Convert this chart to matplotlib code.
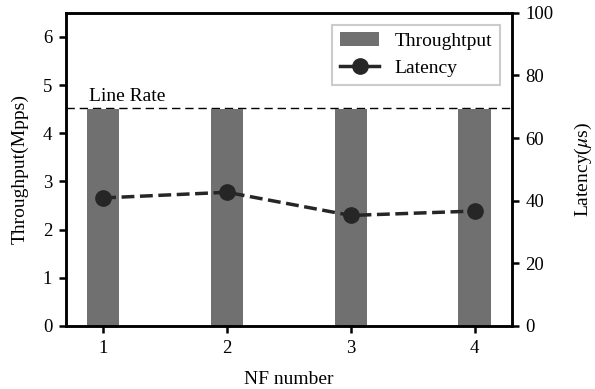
import matplotlib
matplotlib.use('Agg')
import matplotlib.pyplot as plt
from matplotlib.lines import Line2D

plt.rcParams['font.family'] = ['Liberation Serif', 'DejaVu Serif']
plt.rcParams['mathtext.fontset'] = 'stix'
plt.rcParams['font.size'] = 14

# data
nf_number = [1, 2, 3, 4]
throughput = [4.5, 4.5, 4.5, 4.5]
latency = [40.9, 42.7, 35.3, 36.7]
line_rate = 4.52

fig = plt.figure(figsize=(5.95, 3.89), dpi=100)
ax = fig.add_axes([0.111, 0.162, 0.749, 0.805])
ax2 = ax.twinx()

# bars on the left axis
bars = ax.bar(nf_number, throughput, width=0.26, color='#707070', label='Throughtput', zorder=2)
ax.axhline(line_rate, color='black', linestyle=(0, (6, 3.5)), linewidth=1.0, zorder=1)
ax.text(0.885, line_rate + 0.06, 'Line Rate', ha='left', va='bottom', fontsize=14)

# latency on the right axis
line, = ax2.plot(nf_number, latency, color='#262626', linestyle='--', linewidth=2.5,
                 marker='o', markersize=11, label='Latency')

ax.set_xlim(0.7, 4.3)
ax.set_ylim(0, 6.5)
ax2.set_ylim(0, 100)
ax.set_xticks(nf_number)
ax.set_yticks(range(0, 7))
ax2.set_yticks(range(0, 101, 20))

ax.set_xlabel('NF number', labelpad=10)
ax.set_ylabel('Throughput(Mpps)', labelpad=10)
ax2.set_ylabel(r'Latency($\mu$s)', labelpad=14)

for a in (ax, ax2):
    for s in a.spines.values():
        s.set_linewidth(1.8)
    a.tick_params(width=1.8, length=5, direction='out', labelsize=13.5, pad=5)

# solid proxy so the legend handle looks like the reference
lat_handle = Line2D([], [], color='#262626', linewidth=2.5, marker='o', markersize=11)
leg = ax2.legend([bars, lat_handle], ['Throughtput', 'Latency'], loc='upper right',
                 fancybox=False, edgecolor='#cccccc', framealpha=1, fontsize=14,
                 borderaxespad=0.6)
leg.get_frame().set_linewidth(1.5)

plt.savefig('out.png', dpi=100)
